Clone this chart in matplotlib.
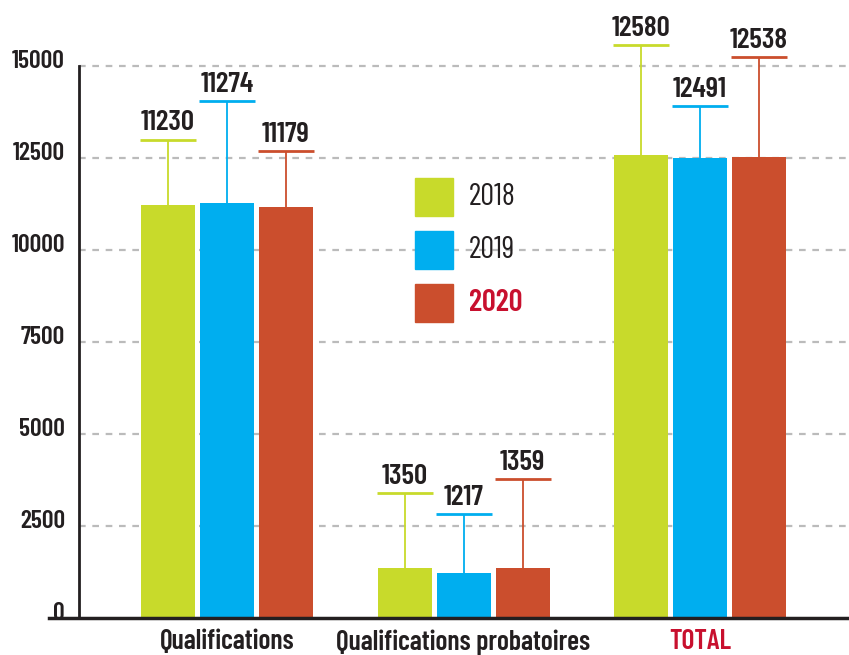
import matplotlib
matplotlib.use('Agg')
import matplotlib.pyplot as plt
import matplotlib.transforms as mtransforms
from matplotlib.patches import Rectangle
from matplotlib.lines import Line2D
import numpy as np

# data
categories = ['Qualifications', 'Qualifications probatoires', 'TOTAL']
years = ['2018', '2019', '2020']
values = {
    '2018': [11230, 1350, 12580],
    '2019': [11274, 1217, 12491],
    '2020': [11179, 1359, 12538],
}
# top of the whisker above each bar
caps = {
    '2018': [13000, 3400, 15570],
    '2019': [14050, 2830, 13910],
    '2020': [12690, 3780, 15250],
}
yticks = [0, 2500, 5000, 7500, 10000, 12500, 15000]

colors = {'2018': '#c8da2b', '2019': '#00aeef', '2020': '#cb4e2d'}
dark = '#231f20'
red_txt = '#c8102e'
plt.rcParams['font.family'] = ['Barlow Condensed', 'DejaVu Sans']

W, H = 849, 655
fig = plt.figure(figsize=(W / 100, H / 100), dpi=100)
ax = fig.add_axes([79 / W, (H - 618) / H, 770 / W, 618 / H])

unit = 236.5
x0 = -(227 - 79) / unit
ax.set_xlim(x0, x0 + 770 / unit)
ax.set_ylim(0, 618 * 2500 / 92)

width = 54 / unit
step = 59 / unit
x = np.arange(len(categories))

for i, yr in enumerate(years):
    xs = x + (i - 1) * step
    ax.bar(xs, values[yr], width=width, color=colors[yr], zorder=3)
    ax.vlines(xs, values[yr], caps[yr], color=colors[yr], lw=1.3, zorder=3)
    ax.hlines(caps[yr], xs - width / 2 - 1 / unit, xs + width / 2 + 1 / unit,
              color=colors[yr], lw=2, zorder=3)
    for xi, c, v in zip(xs, caps[yr], values[yr]):
        ax.annotate(str(v), (xi, c), xytext=(0, 3), textcoords='offset points',
                    ha='center', va='bottom', fontsize=21, fontweight='semibold',
                    color=dark)

# grid
for t in yticks[1:]:
    ax.axhline(t, color='#bbbbbb', lw=1.6, ls=(0, (3, 3)), zorder=1)

ax.set_yticks(yticks)
ax.set_yticklabels([str(t) for t in yticks], fontsize=18.5, fontweight='semibold', color=dark)
ax.tick_params(axis='y', length=0, pad=10)
# labels sit a little above their gridline
shift = mtransforms.ScaledTranslation(0, 0.07, fig.dpi_scale_trans)
for lab in ax.get_yticklabels():
    lab.set_transform(lab.get_transform() + shift)
ax.set_xticks(x)
ax.set_xticklabels(categories, fontsize=20, fontweight='semibold', color=dark)
ax.get_xticklabels()[2].set_color(red_txt)
ax.tick_params(axis='x', length=0, pad=8)

for s in ['top', 'right', 'bottom']:
    ax.spines[s].set_visible(False)
ax.spines['left'].set_bounds(0, 15000)
ax.spines['left'].set_linewidth(2)
ax.spines['left'].set_color(dark)

# baseline extends left of the y axis
fig.add_artist(Line2D([49 / W, 1], [(H - 618) / H] * 2, color=dark, lw=2.5))

# legend
for i, yr in enumerate(years):
    top = 178 + i * 53
    fig.add_artist(Rectangle((415 / W, (H - top - 38) / H), 38 / W, 38 / H,
                             color=colors[yr]))
    fig.text(469 / W, (H - top - 19) / H, yr, fontsize=22, va='center',
             color=red_txt if yr == '2020' else dark,
             fontweight='semibold' if yr == '2020' else 'normal')

fig.savefig('out.png', dpi=100)
